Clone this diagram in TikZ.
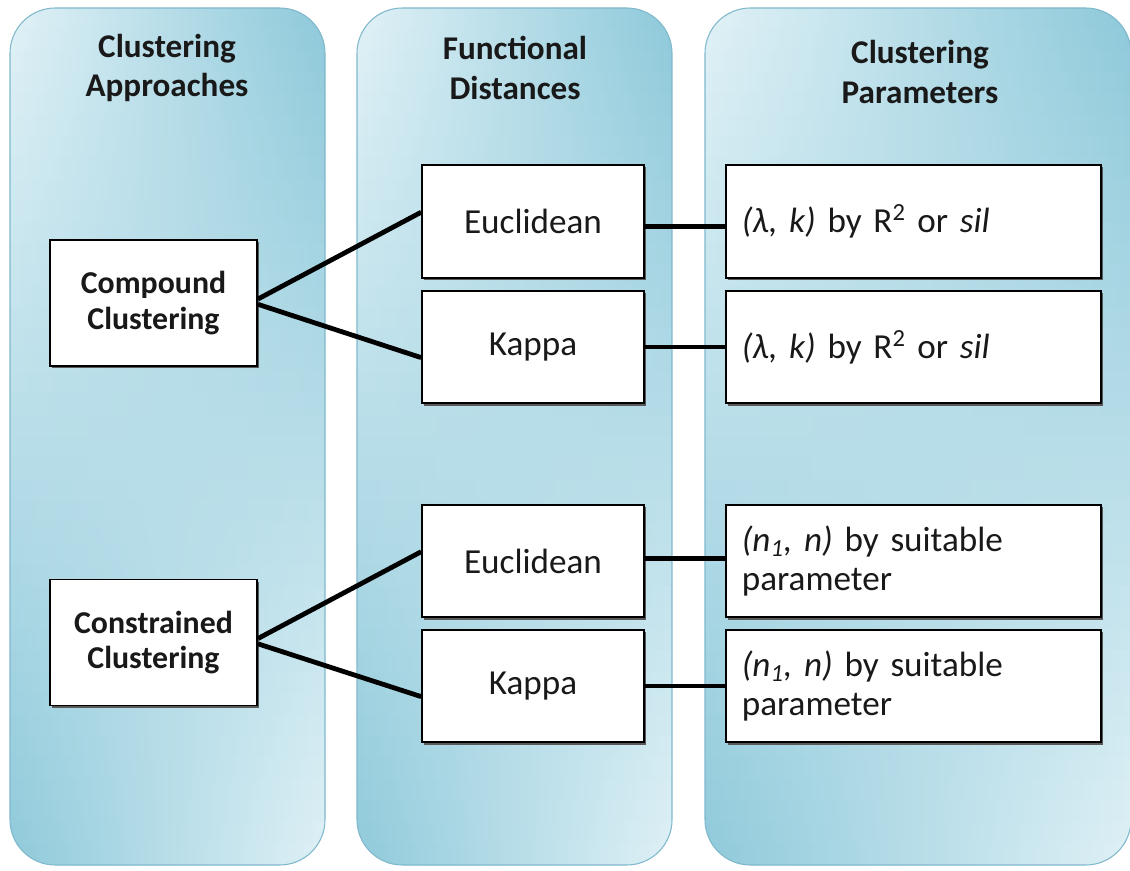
\documentclass[tikz,border=0pt]{standalone}
\usepackage{fontspec}
\setmainfont{Carlito}
\usetikzlibrary{shadows}
\definecolor{paneLight}{RGB}{224,241,246}
\definecolor{paneDark}{RGB}{142,201,218}
\definecolor{paneEdge}{RGB}{128,184,204}
\begin{document}
\begin{tikzpicture}[x=0.0265cm, y=-0.0265cm,
    panehead/.style={font=\bfseries\fontsize{25}{30}\selectfont, align=center, text=black!90},
    whitebox/.style={draw, line width=1.4pt, fill=white, text=black!90,
      general shadow={fill=black!65, shadow xshift=1.6pt, shadow yshift=-1.6pt}},
    approachbox/.style={whitebox, minimum width=5.49cm, minimum height=3.34cm, align=center,
      font=\bfseries\fontsize{24}{27}\selectfont},
    distbox/.style={whitebox, minimum width=5.88cm, minimum height=2.99cm,
      font=\fontsize{26.5}{30}\selectfont},
    parambox/.style={whitebox, minimum height=2.99cm, text width=9.1cm, inner xsep=0.42cm,
      align=left, font=\fontsize{26.5}{30}\selectfont},
    link/.style={line width=3.6pt}]
  \useasboundingbox (0,0) rectangle (1130,871);

  % three shaded panes, light at top left, dark at top right and the other way round below
  \foreach \xa/\xb in {10/325, 357/672, 705/1131} {
    \begin{scope}
      \clip[rounded corners=1.2cm] (\xa,8) rectangle (\xb,865);
      \foreach \i in {0,...,39} {
        \pgfmathsetmacro{\mixpc}{\i*2.5}
        \pgfmathsetmacro{\ya}{8+\i*21.425}
        \shade[left color=paneDark!\mixpc!paneLight, right color=paneLight!\mixpc!paneDark]
          (\xa,\ya) rectangle (\xb,\ya+23);
      }
    \end{scope}
    \draw[paneEdge, line width=0.8pt, rounded corners=1.2cm] (\xa,8) rectangle (\xb,865);
  }

  % column titles
  \node[panehead] (hdA) at (167,68) {Clustering\\Approaches};
  \node[panehead] (hdF) at (515,68) {Functional\\Distances};
  \node[panehead] (hdP) at (920,72) {Clustering\\Parameters};

  % approaches
  \node[approachbox] (cmp) at (153.5,303) {Compound\\Clustering};
  \node[approachbox] (con) at (153.5,642.5) {Constrained\\Clustering};

  % distances
  \node[distbox] (euA) at (533,221.5) {Euclidean};
  \node[distbox] (kaA) at (533,347) {Kappa};
  \node[distbox] (euB) at (533,561) {Euclidean};
  \node[distbox] (kaB) at (533,686) {Kappa};

  % parameters
  \node[parambox] (prA) at (913.5,221.5) {\textit{(λ, k)} by R\textsuperscript{2} or \textit{sil}};
  \node[parambox] (prB) at (913.5,347) {\textit{(λ, k)} by R\textsuperscript{2} or \textit{sil}};
  \node[parambox] (prC) at (913.5,561) {\textit{(n\textsubscript{1}, n)} by suitable\\parameter};
  \node[parambox] (prD) at (913.5,686) {\textit{(n\textsubscript{1}, n)} by suitable\\parameter};

  % connectors
  \draw[link] ([yshift=3pt]cmp.east) -- ([yshift=7pt]euA.west);
  \draw[link] ([yshift=-1pt]cmp.east) -- ([yshift=-8pt]kaA.west);
  \draw[link] ([yshift=3pt]con.east) -- ([yshift=7pt]euB.west);
  \draw[link] ([yshift=-1pt]con.east) -- ([yshift=-8pt]kaB.west);
  \draw[link] ([yshift=-4pt]euA.east) -- ([yshift=-4pt]prA.west);
  \draw[link] (kaA) -- (prB);
  \draw[link] ([yshift=2pt]euB.east) -- ([yshift=2pt]prC.west);
  \draw[link] (kaB) -- (prD);
\end{tikzpicture}
\end{document}
